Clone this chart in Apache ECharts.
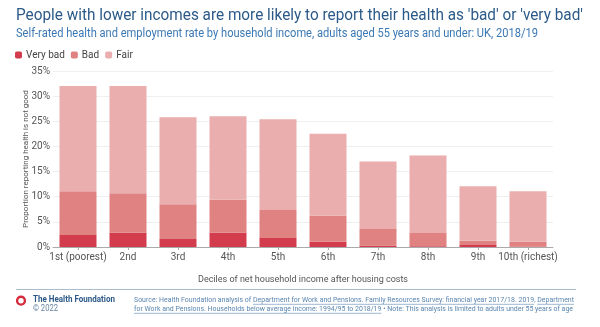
<!DOCTYPE html>
<html><head><meta charset="utf-8">
<script src="https://cdn.jsdelivr.net/npm/echarts@6/dist/echarts.min.js"></script>
<style>html,body{margin:0;padding:0;background:#fff}#c{width:600px;height:327px}</style>
</head><body><div id="c"></div>
<script>
const categories = ['1st (poorest)','2nd','3rd','4th','5th','6th','7th','8th','9th','10th (richest)'];
// cumulative levels (%)
const veryBad = [2.4, 2.85, 1.6, 2.85, 1.8, 1.05, 0.3, 0.15, 0.4, 0.1];
const badCum  = [11.1, 10.7, 8.5, 9.4, 7.35, 6.2, 3.6, 2.8, 1.25, 1.05];
const total   = [32.0, 32.0, 25.8, 26.0, 25.4, 22.5, 17.0, 18.2, 12.1, 11.1];
const yTicks = [0,5,10,15,20,25,30,35];

const bad = badCum.map((b,i)=>+(b - veryBad[i]).toFixed(2));
const fair = total.map((t,i)=>+(t - badCum[i]).toFixed(2));

const cv = document.createElement('canvas').getContext('2d');
function has(f){
  const s='abcdefghijklmnop 10th (richest)';
  cv.font='20px "'+f+'", monospace'; const a=cv.measureText(s).width;
  cv.font='20px monospace'; const b=cv.measureText(s).width;
  return Math.abs(a-b)>0.5;
}
const narrow = has('Liberation Sans Narrow');
const font = narrow ? '"Liberation Sans Narrow", Roboto, sans-serif' : 'Roboto, "Liberation Sans", sans-serif';
const gfont = 'Roboto, "Liberation Sans", sans-serif';
function w(text, f){cv.font=f; return cv.measureText(text).width;}

const graphics = [];
function fitText(text, x, y, target, size, color, weight){
  const f = (weight||'normal')+' '+size+'px '+gfont;
  const s = target / w(text, f);
  graphics.push({type:'text', x:x, y:y, scaleX:s, style:{text:text, font:f, fill:color, textVerticalAlign:'middle', x:0, y:0}});
}
function fitSegs(segs, x, y, target, size, color){
  const f = size+'px '+gfont;
  const widths = segs.map(sg=>w(sg.t, f));
  const s = target / widths.reduce((a,b)=>a+b,0);
  let cx = x;
  segs.forEach((sg,i)=>{
    graphics.push({type:'text', x:cx, y:y, scaleX:s, style:{text:sg.t, font:f, fill:color, textVerticalAlign:'middle', x:0, y:0}});
    if(sg.u){
      const tw = w(sg.t.replace(/\s+$/,''), f)*s;
      graphics.push({type:'line', shape:{x1:cx, y1:y+4, x2:cx+tw, y2:y+4}, style:{stroke:color, lineWidth:0.6}});
    }
    cx += widths[i]*s;
  });
}

fitText("People with lower incomes are more likely to report their health as 'bad' or 'very bad'", 16, 15.5, 567, 16, '#2c5a88');
fitText('Self-rated health and employment rate by household income, adults aged 55 years and under: UK, 2018/19', 16, 34, 522, 12, '#3b78b4');

graphics.push({type:'line', shape:{x1:16,y1:289.5,x2:576,y2:289.5}, style:{stroke:'#a9bccd', lineWidth:1}});
graphics.push({type:'circle', shape:{cx:21,cy:300.7,r:3.9}, style:{fill:'none', stroke:'#d42a3c', lineWidth:2.4}});
fitText('The Health Foundation', 33, 299.7, 82, 9, '#2c5a88', 'bold');
fitText('© 2022', 33, 309, 25, 9, '#6a86a3');
const fc = '#5a86b0';
fitSegs([{t:'Source: Health Foundation analysis of '},
         {t:'Department for Work and Pensions. Family Resources Survey: financial year 2017/18. 2019', u:true},
         {t:', '},{t:'Department', u:true}], 134, 300.3, 440, 7.5, fc);
fitSegs([{t:'for Work and Pensions. Households below average income: 1994/95 to 2018/19', u:true},
         {t:' • Note: This analysis is limited to adults under 55 years of age'}], 134, 309.3, 439, 7.5, fc);

const chart = echarts.init(document.getElementById('c'), null, {renderer:'canvas'});
chart.setOption({
  animation:false,
  textStyle:{fontFamily:font},
  legend:{left:15, top:50, itemWidth:7, itemHeight:7, itemGap:6, padding:[0,0,0,0],
    textStyle:{fontSize:narrow?11:10, color:'#444', padding:[0,0,0,-1], fontFamily:font},
    data:['Very bad','Bad','Fair']},
  grid:{left:53, right:47, top:71, bottom:80},
  xAxis:{type:'category', data:categories,
    axisLine:{lineStyle:{color:'#aaa'}},
    axisTick:{show:true, alignWithLabel:true, length:3, lineStyle:{color:'#aaa'}},
    axisLabel:{fontSize:narrow?11:10, color:'#555', margin:5, interval:0, fontFamily:font},
    name:'Deciles of net household income after housing costs', nameLocation:'middle', nameGap:28,
    nameTextStyle:{fontSize:narrow?10:9, color:'#555', fontFamily:font}},
  yAxis:{type:'value', min:0, max:35, interval:5,
    axisLabel:{formatter:v=>yTicks.includes(v)?v+'%':'', fontSize:narrow?11:10, color:'#555', margin:3, fontFamily:font},
    axisTick:{show:false}, axisLine:{show:false},
    splitLine:{lineStyle:{color:'#efefef'}},
    name:'Proportion reporting health is not good', nameLocation:'middle', nameGap:23, nameMoveOverlap:false,
    nameTextStyle:{fontSize:narrow?9:8, color:'#555', fontFamily:font}},
  series:[
    {name:'Very bad', type:'bar', stack:'s', data:veryBad, barWidth:37, itemStyle:{color:'#d23c4c'}},
    {name:'Bad', type:'bar', stack:'s', data:bad, itemStyle:{color:'#e08182'}},
    {name:'Fair', type:'bar', stack:'s', data:fair, itemStyle:{color:'#eaaeae'}}
  ],
  graphic:graphics
});
</script></body></html>
